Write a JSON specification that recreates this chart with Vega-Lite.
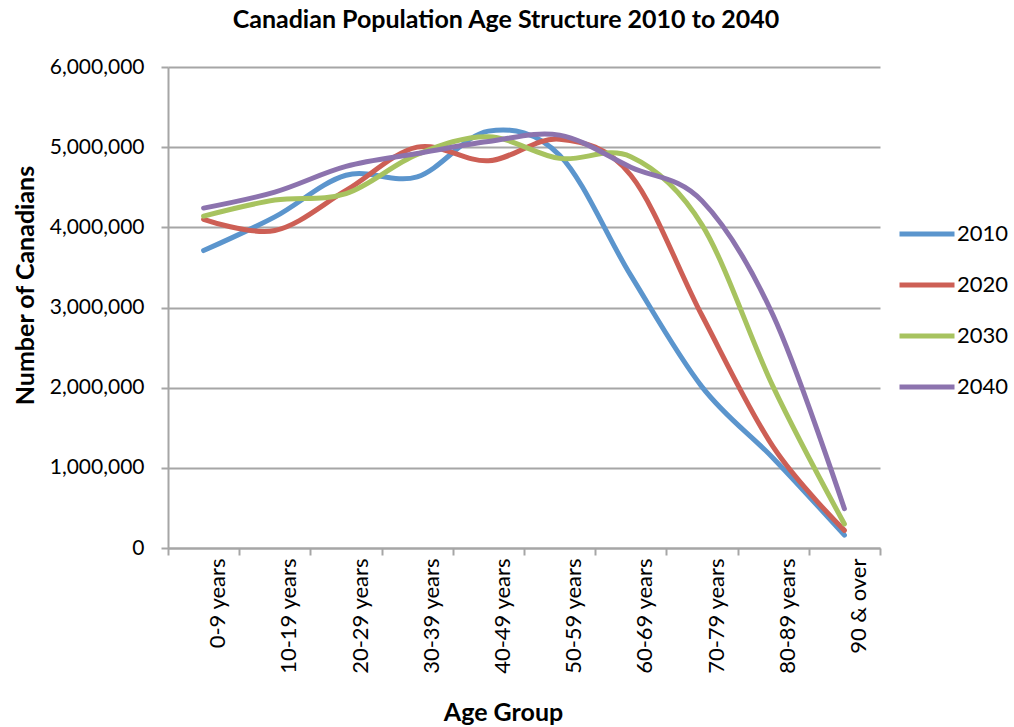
{
  "$schema": "https://vega.github.io/schema/vega-lite/v6.json",
  "width": 712,
  "height": 481,
  "autosize": "none",
  "padding": {"left": 168, "top": 67, "right": 134, "bottom": 179},
  "background": "white",
  "config": {
    "view": {"stroke": null},
    "font": "Lato"
  },
  "title": {
    "text": "Canadian Population Age Structure 2010 to 2040",
    "font": "Lato",
    "fontSize": 25,
    "fontWeight": "bold",
    "color": "#000000",
    "anchor": "middle",
    "dx": -18,
    "offset": 23
  },
  "data": {
    "values": [
      {"age": "0-9 years", "year": "2010", "pop": 3710000},
      {"age": "10-19 years", "year": "2010", "pop": 4130000},
      {"age": "20-29 years", "year": "2010", "pop": 4650000},
      {"age": "30-39 years", "year": "2010", "pop": 4630000},
      {"age": "40-49 years", "year": "2010", "pop": 5200000},
      {"age": "50-59 years", "year": "2010", "pop": 4900000},
      {"age": "60-69 years", "year": "2010", "pop": 3400000},
      {"age": "70-79 years", "year": "2010", "pop": 2010000},
      {"age": "80-89 years", "year": "2010", "pop": 1120000},
      {"age": "90 & over", "year": "2010", "pop": 160000},
      {"age": "0-9 years", "year": "2020", "pop": 4100000},
      {"age": "10-19 years", "year": "2020", "pop": 3960000},
      {"age": "20-29 years", "year": "2020", "pop": 4460000},
      {"age": "30-39 years", "year": "2020", "pop": 5000000},
      {"age": "40-49 years", "year": "2020", "pop": 4830000},
      {"age": "50-59 years", "year": "2020", "pop": 5100000},
      {"age": "60-69 years", "year": "2020", "pop": 4650000},
      {"age": "70-79 years", "year": "2020", "pop": 2900000},
      {"age": "80-89 years", "year": "2020", "pop": 1260000},
      {"age": "90 & over", "year": "2020", "pop": 220000},
      {"age": "0-9 years", "year": "2030", "pop": 4140000},
      {"age": "10-19 years", "year": "2030", "pop": 4340000},
      {"age": "20-29 years", "year": "2030", "pop": 4420000},
      {"age": "30-39 years", "year": "2030", "pop": 4910000},
      {"age": "40-49 years", "year": "2030", "pop": 5130000},
      {"age": "50-59 years", "year": "2030", "pop": 4860000},
      {"age": "60-69 years", "year": "2030", "pop": 4880000},
      {"age": "70-79 years", "year": "2030", "pop": 4030000},
      {"age": "80-89 years", "year": "2030", "pop": 2010000},
      {"age": "90 & over", "year": "2030", "pop": 300000},
      {"age": "0-9 years", "year": "2040", "pop": 4240000},
      {"age": "10-19 years", "year": "2040", "pop": 4440000},
      {"age": "20-29 years", "year": "2040", "pop": 4760000},
      {"age": "30-39 years", "year": "2040", "pop": 4920000},
      {"age": "40-49 years", "year": "2040", "pop": 5070000},
      {"age": "50-59 years", "year": "2040", "pop": 5150000},
      {"age": "60-69 years", "year": "2040", "pop": 4750000},
      {"age": "70-79 years", "year": "2040", "pop": 4330000},
      {"age": "80-89 years", "year": "2040", "pop": 2900000},
      {"age": "90 & over", "year": "2040", "pop": 490000}
    ]
  },
  "mark": {
    "type": "line",
    "interpolate": "cardinal",
    "strokeWidth": 5,
    "strokeCap": "round",
    "strokeJoin": "round"
  },
  "encoding": {
    "x": {
      "field": "age",
      "type": "nominal",
      "sort": null,
      "bandPosition": 0.5,
      "scale": {"type": "band", "paddingInner": 0, "paddingOuter": 0},
      "axis": {
        "title": "Age Group",
        "titleFont": "Lato",
        "titleFontSize": 25,
        "titleFontWeight": "bold",
        "titleColor": "#000000",
        "titleX": 335,
        "titleY": 164,
        "titleBaseline": "middle",
        "titleAlign": "center",
        "labelFont": "Lato",
        "labelFontSize": 22,
        "labelColor": "#000000",
        "labelAngle": -90,
        "labelAlign": "right",
        "labelBaseline": "middle",
        "labelOffset": 14,
        "labelPadding": 3,
        "labelOverlap": false,
        "tickBand": "extent",
        "tickSize": 7,
        "tickWidth": 2,
        "tickColor": "#A6A6A6",
        "domainColor": "#A6A6A6",
        "domainWidth": 2,
        "grid": false
      }
    },
    "y": {
      "field": "pop",
      "type": "quantitative",
      "scale": {"domain": [0, 6000000], "nice": false},
      "axis": {
        "title": "Number of Canadians",
        "titleFont": "Lato",
        "titleFontSize": 25,
        "titleFontWeight": "bold",
        "titleColor": "#000000",
        "titleAngle": -90,
        "titleX": -143,
        "titleY": 218,
        "titleBaseline": "middle",
        "titleAlign": "center",
        "values": [0, 1000000, 2000000, 3000000, 4000000, 5000000, 6000000],
        "format": ",d",
        "labelFont": "Lato",
        "labelFontSize": 21,
        "labelColor": "#000000",
        "labelPadding": 17,
        "tickSize": 7,
        "tickWidth": 2,
        "tickColor": "#A6A6A6",
        "domainColor": "#A6A6A6",
        "domainWidth": 2,
        "grid": true,
        "gridColor": "#A6A6A6",
        "gridWidth": 2
      }
    },
    "color": {
      "field": "year",
      "type": "nominal",
      "scale": {
        "domain": ["2010", "2020", "2030", "2040"],
        "range": ["#5B95CD", "#CD5F55", "#A7C35F", "#8C73AE"]
      },
      "legend": {
        "title": null,
        "orient": "none",
        "legendX": 729,
        "legendY": 137,
        "padding": 0,
        "symbolType": "stroke",
        "symbolSize": 3025,
        "symbolStrokeWidth": 5,
        "labelFont": "Lato",
        "labelFontSize": 22,
        "labelColor": "#000000",
        "labelOffset": 0,
        "rowPadding": 10
      }
    }
  }
}
